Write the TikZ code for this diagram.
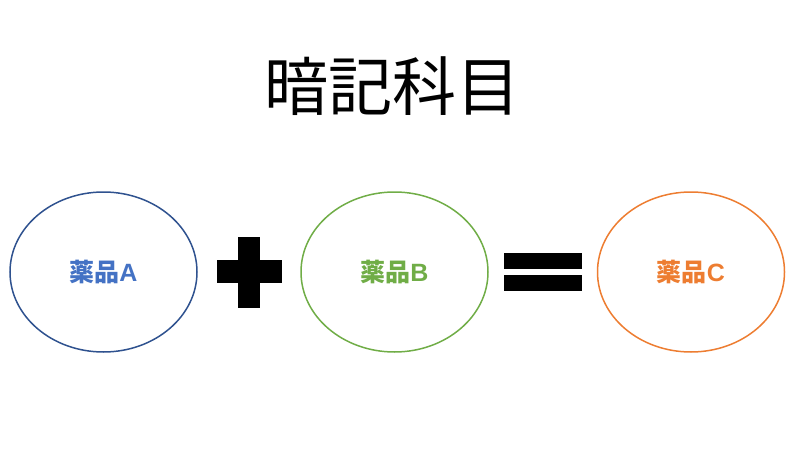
\documentclass[tikz,border=0pt]{standalone}
\usepackage{fontspec}
\newfontfamily\cjk{Noto Sans CJK JP}
\newfontfamily\latin{Liberation Sans}
\usepackage{tikz}
\usetikzlibrary{shapes.geometric}

\definecolor{drugA}{HTML}{4472C4}
\definecolor{drugAline}{HTML}{2F528F}
\definecolor{drugB}{HTML}{70AD47}
\definecolor{drugC}{HTML}{ED7D31}

\begin{document}
\begin{tikzpicture}[x=1pt,y=-1pt]

		% Define styles
		\tikzstyle{drug} = [
		ellipse, minimum width=187pt, minimum height=160pt,
		inner sep=0pt, line width=1.5pt, text centered,
		font=\cjk\bfseries\fontsize{25}{28}\selectfont]
		\tikzstyle{sign} = [fill=black]

		\useasboundingbox (0,0) rectangle (811,468);

		% Title
		\node (title) at (392,86) {\cjk\fontsize{64}{72}\selectfont 暗記科目};

		% Nodes
		\node (drugA) [drug, draw=drugAline, text=drugA] at (103.5,272) {薬品{\latin A}};
		\node (drugB) [drug, draw=drugB, text=drugB] at (394.5,272) {薬品{\latin B}};
		\node (drugC) [drug, draw=drugC, text=drugC] at (691,272) {薬品{\latin C}};

		% Plus
		\fill [sign] (238,237) rectangle (260,308);
		\fill [sign] (217,260) rectangle (282,283);

		% Equals
		\fill [sign] (504,253) rectangle (582,269);
		\fill [sign] (504,275) rectangle (582,291);
	\end{tikzpicture}
\end{document}
